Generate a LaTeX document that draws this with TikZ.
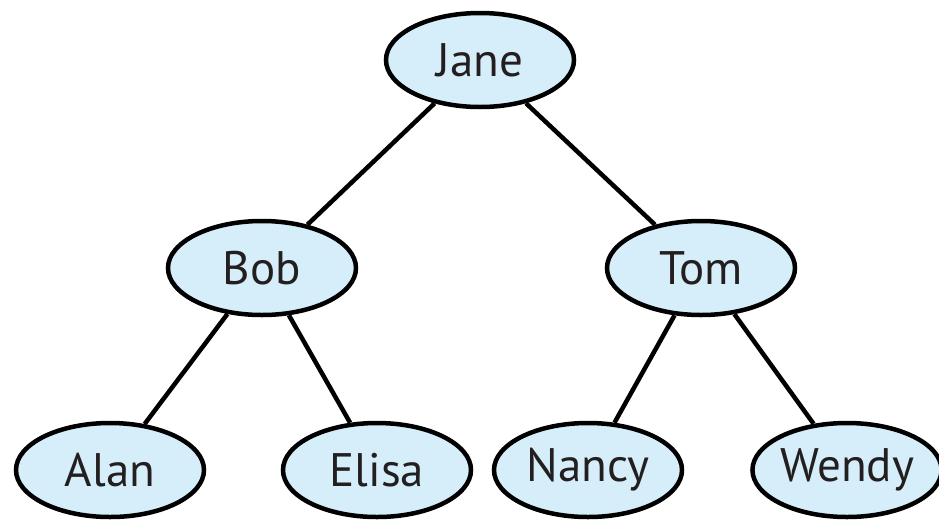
\documentclass[tikz,border=0pt]{standalone}
\usepackage{fontspec}
\setmainfont{PT Sans}
\usetikzlibrary{shapes.geometric}
\definecolor{nodefill}{RGB}{214,238,250}
\definecolor{txt}{RGB}{35,31,32}
\begin{document}
\begin{tikzpicture}[x=1pt,y=-1pt,
  person/.style={ellipse,draw=black,line width=4.5pt,fill=nodefill,
    minimum width=188pt,minimum height=94pt,inner sep=0pt,
    text=txt,font=\fontsize{47}{50}\selectfont},
  link/.style={draw=black,line width=4.5pt}]
\useasboundingbox (0,0) rectangle (939,523);
\node[person] (jane) at (480,60) {Jane};
\node[person] (bob) at (262,268) {Bob};
\node[person] (tom) at (701,268) {Tom};
\node[person] (alan) at (110,470) {Alan};
\node[person] (elisa) at (377,470) {Elisa};
\node[person] (nancy) at (588,470) {Nancy};
\node[person,minimum width=180pt] (wendy) at (847,470) {Wendy};
\draw[link] (jane) -- (bob);
\draw[link] (jane) -- (tom);
\draw[link] (bob) -- (alan);
\draw[link] (bob) -- (elisa);
\draw[link] (tom) -- (nancy);
\draw[link] (tom) -- (wendy);
\end{tikzpicture}
\end{document}
